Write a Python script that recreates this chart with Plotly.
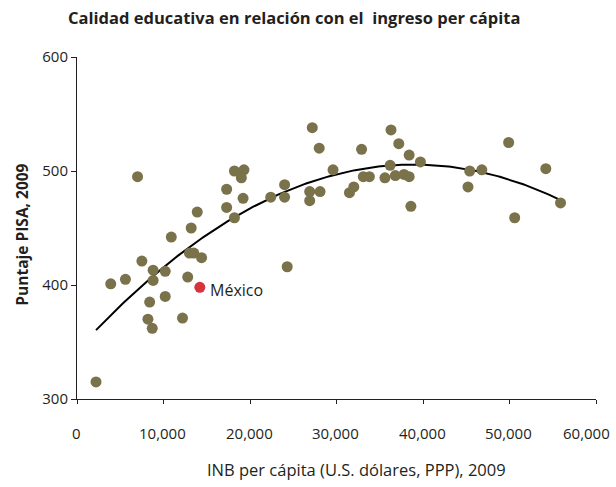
import numpy as np
import plotly.graph_objects as go

# --- data ---
gni_per_capita = [2200, 3900, 5600, 7000, 7500, 8800, 8800, 8400, 8200, 8700,
                  10200, 10200, 10900, 12800, 12200, 13000, 13500, 14400, 13200, 13900,
                  17300, 17300, 18200, 18200, 19300, 19000, 19200, 22400, 24000, 24000,
                  24300, 26900, 26900, 28100, 27200, 28000, 29600, 31500, 32000, 32900,
                  33100, 33800, 35600, 36200, 36300, 37200, 36800, 37800, 38400, 38400,
                  38600, 39700, 45200, 45400, 46800, 49900, 50600, 54200, 55900]
pisa_score = [315, 401, 405, 495, 421, 413, 404, 385, 370, 362,
              412, 390, 442, 407, 371, 428, 428, 424, 450, 464,
              468, 484, 459, 500, 501, 494, 476, 477, 488, 477,
              416, 482, 474, 482, 538, 520, 501, 481, 486, 519,
              495, 495, 494, 505, 536, 524, 496, 497, 495, 514,
              469, 508, 486, 500, 501, 525, 459, 502, 472]
mexico_name = "México"
mexico_gni = 14200
mexico_pisa = 398

x_ticks = [0, 10000, 20000, 30000, 40000, 50000, 60000]
x_tick_labels = ["0", "10,000", "20,000", "30,000", "40,000", "50,000", "60,000"]
y_ticks = [300, 400, 500, 600]

title_text = "Calidad educativa en relación con el  ingreso per cápita"
x_title = "INB per cápita (U.S. dólares, PPP), 2009"
y_title = "Puntaje PISA, 2009"

# --- polynomial (order 2) trend line of all countries ---
all_x = np.array(gni_per_capita + [mexico_gni], dtype=float)
all_y = np.array(pisa_score + [mexico_pisa], dtype=float)
coef = np.polyfit(all_x, all_y, 2)
trend_x = np.linspace(all_x.min(), all_x.max(), 200)
trend_y = np.polyval(coef, trend_x)

FONT = "Open Sans"
TXT = "#231F20"
OLIVE = "#79724A"
RED = "#D8323F"

fig = go.Figure()
fig.add_trace(go.Scatter(x=trend_x, y=trend_y, mode="lines",
                         line=dict(color="#000000", width=2), hoverinfo="skip",
                         showlegend=False))
fig.add_trace(go.Scatter(x=gni_per_capita, y=pisa_score, mode="markers",
                         marker=dict(color=OLIVE, size=11, line=dict(width=0)),
                         showlegend=False))
fig.add_trace(go.Scatter(x=[mexico_gni], y=[mexico_pisa], mode="markers",
                         marker=dict(color=RED, size=11, line=dict(width=0)),
                         showlegend=False))

fig.add_annotation(x=mexico_gni, y=mexico_pisa, text=mexico_name, showarrow=False,
                   xanchor="left", yanchor="middle", xshift=8, yshift=-3,
                   font=dict(family=FONT, size=16, color=TXT))

# x tick labels (placed as annotations so the last one stays inside the page)
for i, (tv, tl) in enumerate(zip(x_ticks, x_tick_labels)):
    last = i == len(x_ticks) - 1
    fig.add_annotation(x=tv, xref="x", yref="paper", y=-(433 - 399.3) / 342.8,
                       text=tl, showarrow=False, yanchor="middle",
                       xanchor="right" if last else "center",
                       xshift=16 if last else -1,
                       font=dict(family=FONT, size=15, color=TXT))

fig.add_annotation(text="<b>" + title_text + "</b>", xref="paper", yref="paper",
                   x=(294 - 76.5) / 519.5, y=1 + (56.5 - 17) / 342.8,
                   xanchor="center", yanchor="middle", showarrow=False,
                   font=dict(family=FONT, size=16.5, color=TXT))
fig.add_annotation(text=x_title, xref="paper", yref="paper",
                   x=(356 - 76.5) / 519.5, y=-(470 - 399.3) / 342.8,
                   xanchor="center", yanchor="middle", showarrow=False,
                   font=dict(family=FONT, size=16.5, color=TXT))
fig.add_annotation(text="<b>" + y_title + "</b>", xref="paper", yref="paper",
                   x=-(76.5 - 22) / 519.5, y=(399.3 - 235) / 342.8,
                   xanchor="center", yanchor="middle", textangle=-90, showarrow=False,
                   font=dict(family=FONT, size=15.5, color=TXT))

fig.update_layout(
    width=616, height=487,
    margin=dict(l=76.5, r=20, t=56.5, b=87.7, autoexpand=False),
    paper_bgcolor="white", plot_bgcolor="white",
    font=dict(family=FONT, size=15, color=TXT),
    xaxis=dict(range=[0, 60000], tickvals=x_ticks, showticklabels=False,
               showgrid=False, zeroline=False, showline=True, linecolor="#231F20",
               linewidth=1, ticks="outside", ticklen=4, tickcolor="#231F20",
               automargin=False),
    yaxis=dict(range=[300, 600], tickvals=y_ticks, showgrid=False, zeroline=False,
               showline=True, linecolor="#231F20", linewidth=1, ticks="outside",
               ticklen=5, tickcolor="#231F20", automargin=False,
               tickfont=dict(size=15, color=TXT)),
)

fig.write_html("out.html", config={"displayModeBar": False},
               post_script="document.body.style.margin='0';document.body.style.padding='0';")
